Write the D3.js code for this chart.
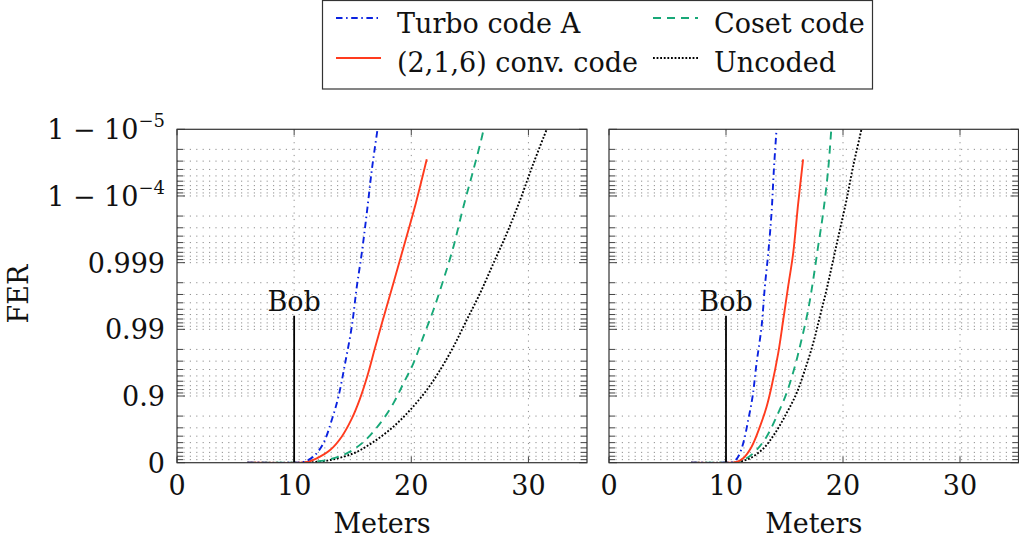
<!DOCTYPE html>
<html><head><meta charset="utf-8">
<script src="https://cdn.jsdelivr.net/npm/d3@7"></script>
<style>
body{margin:0;background:#fff}
svg text{font-family:"DejaVu Serif","Liberation Serif",serif}
</style>
</head><body>
<svg id="c" width="1019" height="539"></svg>
<script>
// ---- data: x = meters, y = -log10(1 - FER) ("nines") ----
const xTicks = [0, 10, 20, 30];
const yTickValues = [0, 1, 2, 3, 4, 5];
const yTickLabels = [["0"], ["0.9"], ["0.99"], ["0.999"], ["1 − 10", "−4"], ["1 − 10", "−5"]];
const seriesNames = ["Turbo code A", "(2,1,6) conv. code", "Coset code", "Uncoded"];
const bobMeters = 10;
const bobTop = 2.2;

const leftTurbo = [[6,0],[10,0],[10.79,0.01],[11.64,0.09],[12.49,0.29],[13.21,0.64],[13.78,0.99],[14.35,1.49],[14.92,2.04],[15.35,2.64],[15.77,3.14],[16.2,3.74],[16.63,4.39],[17.11,4.99]];
const leftConv = [[6,0],[10.3,0],[11.07,0.01],[11.93,0.066],[13.07,0.19],[14.06,0.39],[14.92,0.66],[15.6,0.95],[16.25,1.3],[16.9,1.72],[17.7,2.22],[18.55,2.74],[19.45,3.3],[20.4,3.9],[21.32,4.55]];
const leftCoset = [[6,0],[10,0],[10.79,0.005],[12.78,0.04],[14.49,0.14],[15.91,0.31],[17.34,0.59],[18.47,0.89],[19.33,1.19],[20.18,1.49],[21.03,1.89],[21.89,2.29],[22.74,2.74],[23.6,3.24],[24.45,3.84],[25.3,4.39],[26.1,4.94],[26.2,5.05]];
const leftUncoded = [[6,0],[10.5,0],[11.36,0.005],[13.07,0.04],[15.06,0.14],[16.76,0.31],[18.47,0.54],[19.9,0.79],[21.32,1.09],[22.46,1.39],[23.6,1.74],[24.73,2.14],[25.87,2.54],[27.01,2.99],[28.16,3.44],[29.29,3.94],[30.43,4.49],[31.57,5.0],[31.7,5.05]];

const rightTurbo = [[7,0],[10,0],[10.6,0.01],[11.04,0.09],[11.47,0.29],[11.9,0.64],[12.27,0.99],[12.61,1.49],[13.04,2.04],[13.32,2.64],[13.61,3.14],[13.89,3.74],[14.09,4.39],[14.32,5.0],[14.34,5.05]];
const rightConv = [[7,0],[10.2,0],[10.9,0.01],[11.47,0.066],[12.19,0.24],[12.9,0.54],[13.47,0.84],[13.89,1.14],[14.46,1.64],[14.89,2.14],[15.31,2.64],[15.74,3.14],[16.17,3.89],[16.59,4.55]];
const rightCoset = [[7,0],[10.2,0],[10.9,0.005],[11.76,0.066],[12.61,0.19],[13.47,0.39],[14.32,0.69],[15.17,1.04],[15.88,1.44],[16.45,1.84],[17.02,2.29],[17.45,2.74],[17.87,3.24],[18.3,3.74],[18.73,4.39],[19.0,5.0],[19.05,5.1]];
const rightUncoded = [[7,0],[10.2,0],[10.9,0.005],[12.04,0.066],[13.18,0.21],[14.18,0.44],[15.17,0.74],[16.03,1.04],[16.74,1.39],[17.45,1.79],[18.02,2.19],[18.59,2.59],[19.16,3.04],[19.73,3.49],[20.3,3.94],[20.86,4.44],[21.58,5.0],[21.64,5.05]];

// ---- styles ----
const styles = [
  {color:"#0a22e0", dash:"6.5,3.6,1.5,3.6", w:1.9},
  {color:"#ff3b1e", dash:null, w:1.9},
  {color:"#18a878", dash:"8,6", w:1.9},
  {color:"#000000", dash:"1.8,1.8", w:1.9}
];
const FS = 27, FS_SUP = 18;

const svg = d3.select("#c");
svg.append("rect").attr("width",1019).attr("height",539).attr("fill","#fff");

const plotTop = 129.3, plotBottom = 462.7;
const panels = [
  {x0:177, x1:587, series:[leftTurbo,leftConv,leftCoset,leftUncoded], labels:true},
  {x0:609, x1:1018.5, series:[rightTurbo,rightConv,rightCoset,rightUncoded], labels:false}
];
const y = d3.scaleLinear().domain([0,5]).range([plotBottom, plotTop]);

const minorY = [];
for (let k=0;k<5;k++) for (let m=2;m<=9;m++) minorY.push(k+1-Math.log10(m));

panels.forEach((p,pi)=>{
  const x = d3.scaleLinear().domain([0,35]).range([p.x0,p.x1]);
  const g = svg.append("g");
  const clipId = "clip"+pi;
  svg.append("clipPath").attr("id",clipId).append("rect")
    .attr("x",p.x0).attr("y",plotTop).attr("width",p.x1-p.x0).attr("height",plotBottom-plotTop);

  // grid
  const grid = g.append("g").attr("stroke","#8f8f8f").attr("stroke-width",1).attr("stroke-dasharray","1.2,5.2").attr("fill","none");
  minorY.concat([1,2,3,4]).forEach(v=>{
    grid.append("line").attr("x1",p.x0).attr("x2",p.x1).attr("y1",y(v)).attr("y2",y(v));
  });
  xTicks.filter(v=>v>0).forEach(v=>{
    grid.append("line").attr("x1",x(v)).attr("x2",x(v)).attr("y1",plotTop).attr("y2",plotBottom);
  });

  // ticks
  const tk = g.append("g").attr("stroke","#444").attr("stroke-width",1);
  minorY.forEach(v=>{
    tk.append("line").attr("x1",p.x0).attr("x2",p.x0+6).attr("y1",y(v)).attr("y2",y(v));
    tk.append("line").attr("x1",p.x1).attr("x2",p.x1-6).attr("y1",y(v)).attr("y2",y(v));
  });
  yTickValues.forEach(v=>{
    tk.append("line").attr("x1",p.x0).attr("x2",p.x0+8).attr("y1",y(v)).attr("y2",y(v));
    tk.append("line").attr("x1",p.x1).attr("x2",p.x1-8).attr("y1",y(v)).attr("y2",y(v));
  });
  xTicks.forEach(v=>{
    tk.append("line").attr("x1",x(v)).attr("x2",x(v)).attr("y1",plotBottom).attr("y2",plotBottom-6);
    tk.append("line").attr("x1",x(v)).attr("x2",x(v)).attr("y1",plotTop).attr("y2",plotTop+6);
  });

  // curves
  const line = d3.line().x(d=>x(d[0])).y(d=>y(d[1])).curve(d3.curveCatmullRom.alpha(0.5));
  const cg = g.append("g").attr("clip-path",`url(#${clipId})`);
  [3,2,1,0].forEach(i=>{
    const s = styles[i];
    cg.append("path").datum(p.series[i]).attr("d",line)
      .attr("fill","none").attr("stroke",s.color).attr("stroke-width",s.w)
      .attr("stroke-dasharray",s.dash).attr("stroke-linejoin","round");
  });

  // Bob marker
  g.append("line").attr("x1",x(bobMeters)).attr("x2",x(bobMeters))
    .attr("y1",y(0)).attr("y2",y(bobTop)).attr("stroke","#000").attr("stroke-width",1.8);
  g.append("text").attr("x",x(bobMeters)).attr("y",y(bobTop)-5)
    .attr("text-anchor","middle").attr("font-size",FS).attr("fill","#111").text("Bob");

  // frame
  g.append("rect").attr("x",p.x0).attr("y",plotTop).attr("width",p.x1-p.x0).attr("height",plotBottom-plotTop)
    .attr("fill","none").attr("stroke","#333").attr("stroke-width",1.2);

  // x tick labels
  xTicks.forEach(v=>{
    g.append("text").attr("x",x(v)).attr("y",495).attr("text-anchor","middle")
      .attr("font-size",FS).attr("fill","#111").text(v);
  });
  g.append("text").attr("x",(p.x0+p.x1)/2).attr("y",533).attr("text-anchor","middle")
    .attr("font-size",FS).attr("fill","#111").text("Meters");

  if (p.labels) {
    yTickValues.forEach((v,i)=>{
      const lab = yTickLabels[i];
      const t = g.append("text").attr("x",165).attr("y",y(v)+10).attr("text-anchor","end")
        .attr("font-size",FS).attr("fill","#111");
      t.append("tspan").text(lab[0]);
      if (lab[1]) t.append("tspan").attr("dy",-12).attr("font-size",FS_SUP).text(lab[1]);
    });
    g.append("text").attr("transform","translate(28,294) rotate(-90)")
      .attr("text-anchor","middle").attr("font-size",FS).attr("fill","#111").text("FER");
  }
});

// legend
const lg = svg.append("g");
lg.append("rect").attr("x",322.5).attr("y",0.5).attr("width",550).attr("height",88.5)
  .attr("fill","#fff").attr("stroke","#333").attr("stroke-width",1.2);
const legPos = [
  {lx:336, tx:397, ly:18, ty:33},
  {lx:336, tx:397, ly:58, ty:72},
  {lx:653, tx:714, ly:18, ty:33},
  {lx:653, tx:714, ly:58, ty:72}
];
seriesNames.forEach((n,i)=>{
  const s = styles[i], p = legPos[i];
  lg.append("line").attr("x1",p.lx).attr("x2",p.lx+45).attr("y1",p.ly).attr("y2",p.ly)
    .attr("stroke",s.color).attr("stroke-width",s.w).attr("stroke-dasharray",s.dash);
  lg.append("text").attr("x",p.tx).attr("y",p.ty).attr("font-size",FS).attr("fill","#111").text(n);
});
</script>
</body></html>
